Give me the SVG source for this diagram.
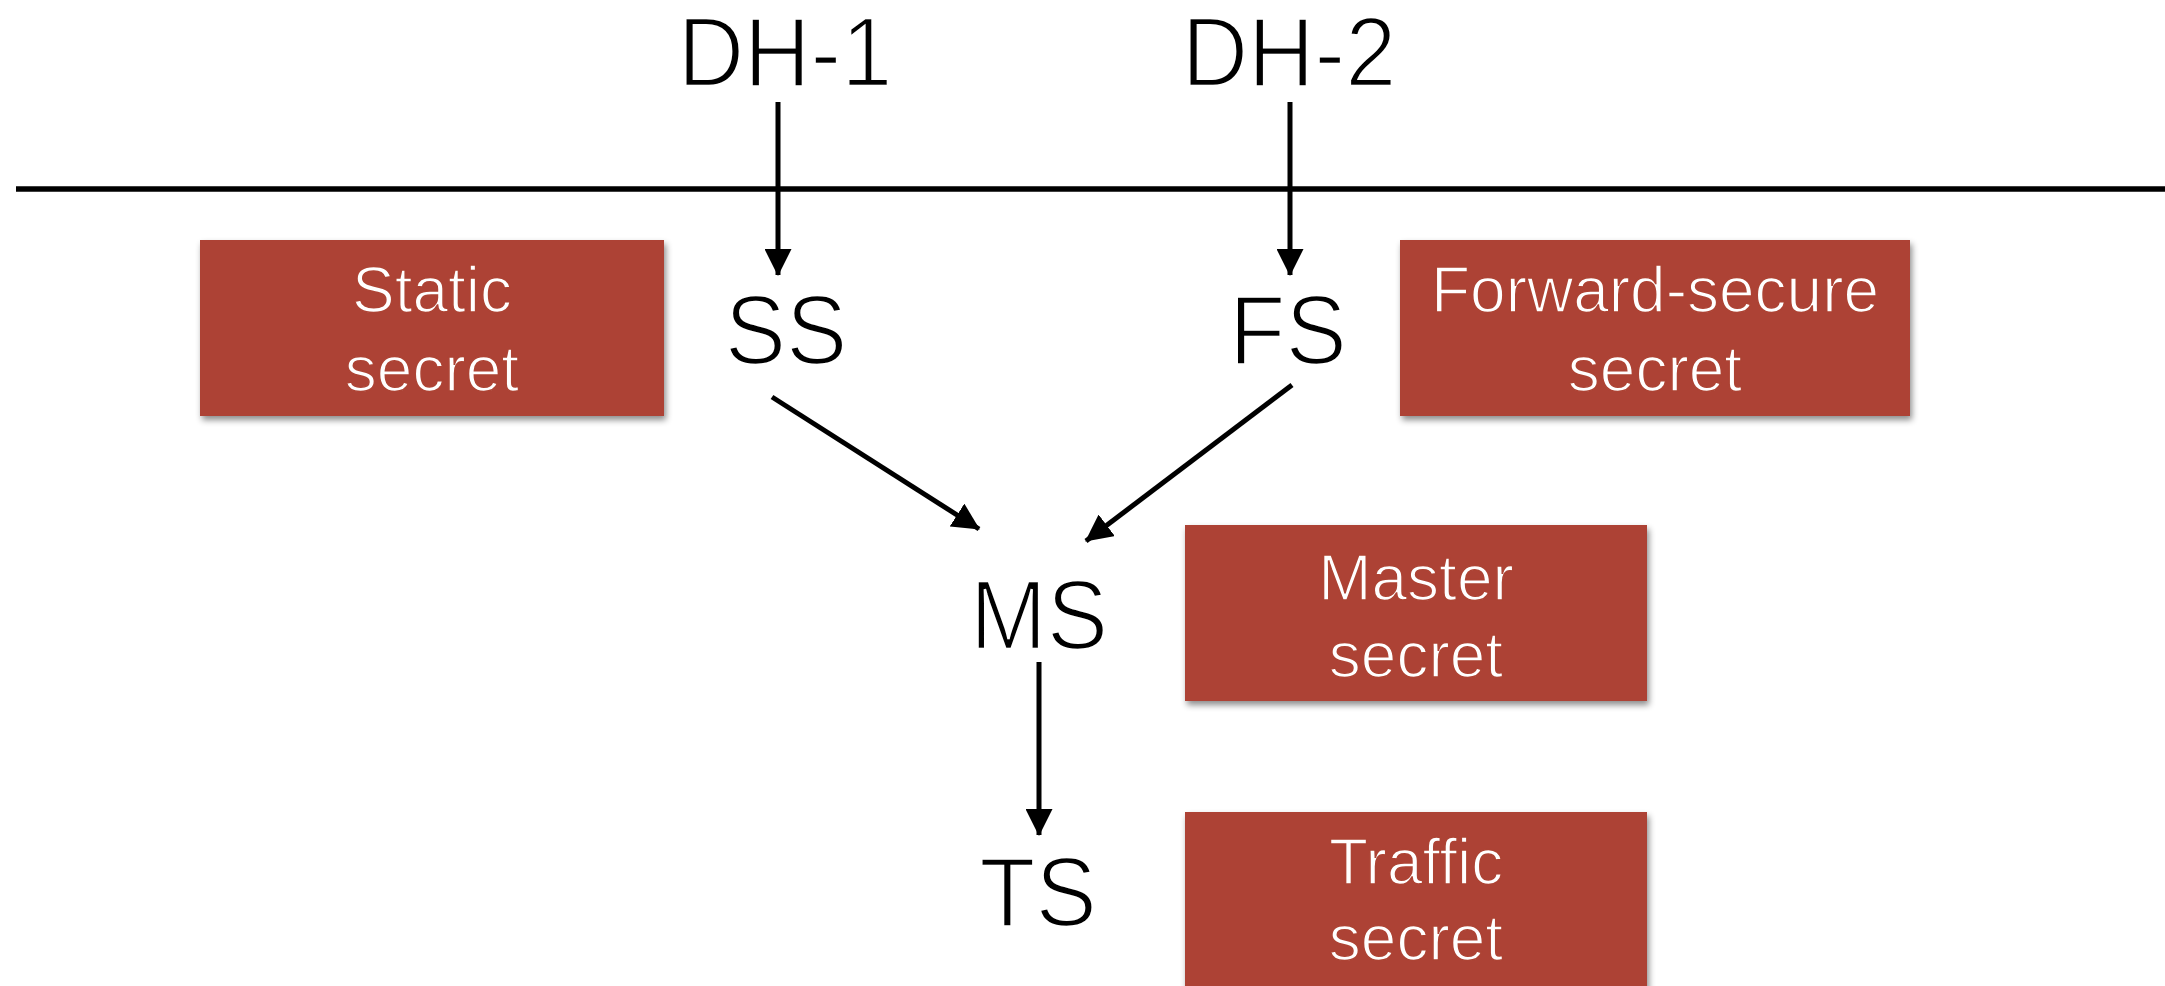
<svg xmlns="http://www.w3.org/2000/svg" width="2165" height="986" viewBox="0 0 2165 986">
  <style>
    .lbl { font-family: "Liberation Sans", Arial, sans-serif; font-size: 92px; fill: #000; text-anchor: middle; stroke: #fff; stroke-width: 2.4px; }
    .btxt { font-family: "Liberation Sans", Arial, sans-serif; font-size: 64px; fill: #fff; text-anchor: middle; stroke: #AD4334; stroke-width: 1.6px; }
    .box { fill: #AD4334; filter: url(#shadow); }
    .conn { stroke: #000; stroke-width: 5; fill: none; marker-end: url(#arrow); }
  </style>
  <defs>
    <marker id="arrow" markerUnits="userSpaceOnUse" markerWidth="27" markerHeight="27" refX="26" refY="13.5" orient="auto">
      <path d="M0,0 L27,13.5 L0,27 z" fill="#000"/>
    </marker>
    <filter id="shadow" x="-10%" y="-10%" width="120%" height="130%">
      <feDropShadow dx="2" dy="4" stdDeviation="3" flood-color="#000" flood-opacity="0.45"/>
    </filter>
  </defs>
  <rect width="2165" height="986" fill="#fff"/>

  <line x1="16" y1="189" x2="2165" y2="189" stroke="#000" stroke-width="5.5"/>

  <g id="connectors">
    <line class="conn" x1="778" y1="102" x2="778" y2="275"/>
    <line class="conn" x1="1290" y1="102" x2="1290" y2="275"/>
    <line class="conn" x1="772" y1="397" x2="979" y2="529"/>
    <line class="conn" x1="1292" y1="385" x2="1086" y2="541"/>
    <line class="conn" x1="1039" y1="662" x2="1039" y2="835"/>
  </g>

  <g id="DH1"><text class="lbl" transform="translate(785,86) scale(1,1.07)">DH-1</text></g>
  <g id="DH2"><text class="lbl" transform="translate(1289,86) scale(1,1.07)">DH-2</text></g>
  <g id="SS"><text class="lbl" transform="translate(786,364) scale(1,1.07)">SS</text></g>
  <g id="FS"><text class="lbl" transform="translate(1288,364) scale(1,1.07)">FS</text></g>
  <g id="MS"><text class="lbl" transform="translate(1039,649) scale(1,1.07)">MS</text></g>
  <g id="TS"><text class="lbl" transform="translate(1038,926) scale(1,1.07)">TS</text></g>

  <g id="static-secret">
    <rect class="box" x="200" y="240" width="464" height="176"/>
    <text class="btxt" x="432" y="312">Static</text>
    <text class="btxt" x="432" y="391">secret</text>
  </g>
  <g id="forward-secure-secret">
    <rect class="box" x="1400" y="240" width="510" height="176"/>
    <text class="btxt" x="1655" y="312">Forward-secure</text>
    <text class="btxt" x="1655" y="391">secret</text>
  </g>
  <g id="master-secret">
    <rect class="box" x="1185" y="525" width="462" height="176"/>
    <text class="btxt" x="1416" y="600">Master</text>
    <text class="btxt" x="1416" y="677">secret</text>
  </g>
  <g id="traffic-secret">
    <rect class="box" x="1185" y="812" width="462" height="190"/>
    <text class="btxt" x="1416" y="884">Traffic</text>
    <text class="btxt" x="1416" y="960">secret</text>
  </g>
</svg>
